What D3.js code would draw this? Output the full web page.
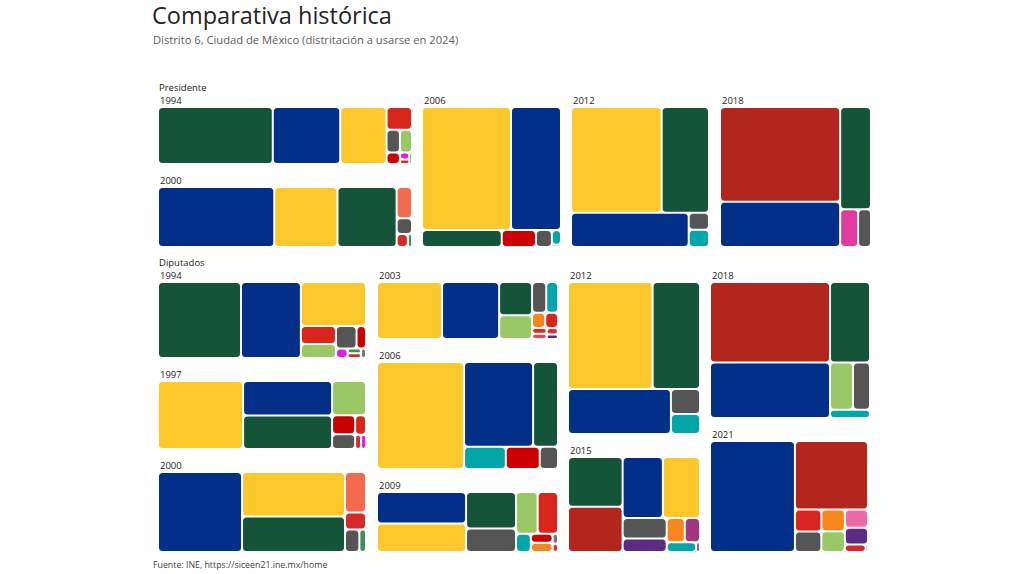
<!DOCTYPE html>
<html>
<head>
<meta charset="utf-8">
<script src="https://cdn.jsdelivr.net/npm/d3@7"></script>
<style>
  html, body { margin: 0; padding: 0; background: #ffffff; }
  svg { display: block; }
  text { font-family: "Segoe UI", "Open Sans", "Noto Sans", sans-serif; }
</style>
</head>
<body>
<svg id="chart" width="1024" height="574"></svg>
<script>
// ---------------- DATA (vote share %) ----------------
const partyNames  = ["PRI","PAN","PRD","PT","PVEM","Nulos","MORENA","MC","PANAL","PES","PH","PFCRN","PPS","PDM","PARM","DS","PCD","PC","PSN","PAS","MP","FC","PSD","ALT","IND","FXM","RSP","NR"];
const partyColors = ["#14553a","#022f87","#fdc82c","#d9261c","#9bc866","#555555","#b3261e","#f7861c","#00a6a8","#5b2c84","#a3357c","#cc0000","#e81ce0","#3f8f5f","#d42a2a","#f26b4f","#3f8f5f","#cc0000","#d42a2a","#e0303a","#e4484c","#5b2c84","#cc0000","#cc0000","#e33ca0","#ee6aa7","#d8262c","#777777"];

const pres1994 = [["PRI",45.1],["PAN",26.5],["PRD",18.2],["PT",4.0],["Nulos",2.1],["PVEM",1.9],["PFCRN",1.05],["PPS",0.45],["PARM",0.3],["PDM",0.2]];
const pres2000 = [["PAN",45.8],["PRD",24.9],["PRI",23.3],["DS",3.15],["Nulos",1.6],["PARM",0.95],["PCD",0.35]];
const pres2006 = [["PRD",56.2],["PAN",31.6],["PRI",7.0],["ALT",3.0],["Nulos",1.4],["PANAL",0.7],["NR",0.1]];
const pres2012 = [["PRD",49.6],["PRI",25.9],["PAN",20.9],["Nulos",1.8],["PANAL",1.8]];
const pres2018 = [["MORENA",53.8],["PAN",25.7],["PRI",14.9],["IND",3.2],["Nulos",2.3]];

const dip1994 = [["PRI",39.9],["PAN",28.8],["PRD",18.1],["PT",4.0],["PVEM",3.1],["Nulos",2.95],["PFCRN",1.35],["PPS",0.7],["PDM",0.4],["PARM",0.4],["NR",0.3]];
const dip1997 = [["PRD",40.9],["PAN",21.7],["PRI",21.1],["PVEM",8.2],["PC",3.1],["Nulos",2.4],["PT",1.5],["PARM",0.6],["PPS",0.5]];
const dip2000 = [["PAN",40.4],["PRD",27.6],["PRI",21.9],["DS",5.1],["PARM",2.15],["Nulos",1.95],["PCD",0.9]];
const dip2003 = [["PRD",35.9],["PAN",31.5],["PRI",10.6],["PVEM",7.6],["Nulos",4.2],["PANAL",3.5],["MC",1.95],["PT",1.9],["PSN",0.8],["PAS",0.7],["MP",0.75],["FC",0.5]];
const dip2006 = [["PRD",48.1],["PAN",30.2],["PRI",10.9],["PANAL",4.8],["ALT",3.9],["Nulos",2.1]];
const dip2009 = [["PAN",25.9],["PRD",23.3],["PRI",16.8],["Nulos",10.8],["PVEM",8.3],["PT",7.8],["PANAL",2.5],["PSD",1.85],["MC",1.85],["NR",0.5],["PAS",0.4]];
const dip2012 = [["PRD",45.0],["PRI",25.2],["PAN",23.0],["Nulos",3.6],["PANAL",2.9]];
const dip2015 = [["PRI",21.5],["MORENA",19.6],["PAN",19.4],["PRD",17.9],["Nulos",7.2],["PES",4.7],["MC",3.5],["PH",2.95],["PANAL",2.25],["NR",0.3]];
const dip2018 = [["MORENA",44.4],["PAN",30.6],["PRI",14.8],["PVEM",5.0],["Nulos",3.7],["PANAL",1.5]];
const dip2021 = [["PAN",53.8],["MORENA",28.6],["PT",3.3],["Nulos",3.1],["MC",2.9],["PVEM",2.8],["FXM",2.4],["PES",2.2],["RSP",0.9],["NR",0.1]];

const titleText    = "Comparativa histórica";
const subtitleText = "Distrito 6, Ciudad de México (distritación a usarse en 2024)";
const sourceText   = "Fuente: INE, https://siceen21.ine.mx/home";
const groupLabels  = ["Presidente","Diputados"];

// ---------------- LAYOUT (panel frames; tile aspect ratio) ----------------
const PHI = (1 + Math.sqrt(5)) / 2;
const panels = [
  {label:"1994", data:pres1994, x0:159, y0:108, x1:411, y1:163, ratio:PHI},
  {label:"2000", data:pres2000, x0:159, y0:188, x1:411, y1:246, ratio:PHI},
  {label:"2006", data:pres2006, x0:423, y0:108, x1:560, y1:246, ratio:PHI},
  {label:"2012", data:pres2012, x0:572, y0:108, x1:708, y1:246, ratio:PHI},
  {label:"2018", data:pres2018, x0:721, y0:108, x1:870, y1:246, ratio:PHI},
  {label:"1994", data:dip1994, x0:159, y0:283, x1:365, y1:357, ratio:PHI},
  {label:"1997", data:dip1997, x0:159, y0:382, x1:365, y1:448, ratio:PHI},
  {label:"2000", data:dip2000, x0:159, y0:473, x1:365, y1:551, ratio:PHI},
  {label:"2003", data:dip2003, x0:378, y0:283, x1:557, y1:338, ratio:PHI},
  {label:"2006", data:dip2006, x0:378, y0:363, x1:557, y1:468, ratio:PHI},
  {label:"2009", data:dip2009, x0:378, y0:493, x1:557, y1:551, ratio:PHI},
  {label:"2012", data:dip2012, x0:569, y0:283, x1:699, y1:433, ratio:PHI},
  {label:"2015", data:dip2015, x0:569, y0:458, x1:699, y1:551, ratio:PHI},
  {label:"2018", data:dip2018, x0:711, y0:283, x1:869, y1:417, ratio:PHI},
  {label:"2021", data:dip2021, x0:711, y0:442, x1:867, y1:551, ratio:1.5}
];

const color = d3.scaleOrdinal().domain(partyNames).range(partyColors);
const svg = d3.select("#chart");

svg.append("text").attr("x", 152).attr("y", 23.5)
  .attr("font-size", 23.5).attr("fill", "#252423").text(titleText);
svg.append("text").attr("x", 153).attr("y", 44)
  .attr("font-size", 11.2).attr("fill", "#605e5c").text(subtitleText);

svg.append("text").attr("x", 159).attr("y", 90.5)
  .attr("font-size", 9.5).attr("fill", "#252423").text(groupLabels[0]);
svg.append("text").attr("x", 159).attr("y", 265.5)
  .attr("font-size", 9.5).attr("fill", "#252423").text(groupLabels[1]);

svg.append("text").attr("x", 153).attr("y", 568)
  .attr("font-size", 8.8).attr("fill", "#444").text(sourceText);

panels.forEach(p => {
  const g = svg.append("g").attr("transform", `translate(${p.x0},${p.y0})`);
  svg.append("text").attr("x", p.x0 + 1).attr("y", p.y0 - 4)
    .attr("font-size", 9.5).attr("fill", "#252423").text(p.label);

  const root = d3.hierarchy({children: p.data.map(([name, value]) => ({name, value}))})
    .sum(d => d.value || 0)
    .sort((a, b) => b.value - a.value);
  d3.treemap()
    .tile(d3.treemapSquarify.ratio(p.ratio))
    .size([p.x1 - p.x0, p.y1 - p.y0])
    .paddingInner(2)
    .round(false)(root);

  g.selectAll("rect").data(root.leaves()).join("rect")
    .attr("x", d => d.x0).attr("y", d => d.y0)
    .attr("width", d => Math.max(0, d.x1 - d.x0))
    .attr("height", d => Math.max(0, d.y1 - d.y0))
    .attr("rx", d => Math.min(3.5, (d.x1 - d.x0) / 2, (d.y1 - d.y0) / 2))
    .attr("fill", d => color(d.data.name))
    .append("title").text(d => `${d.data.name}: ${d.data.value}%`);
});
</script>
</body>
</html>
